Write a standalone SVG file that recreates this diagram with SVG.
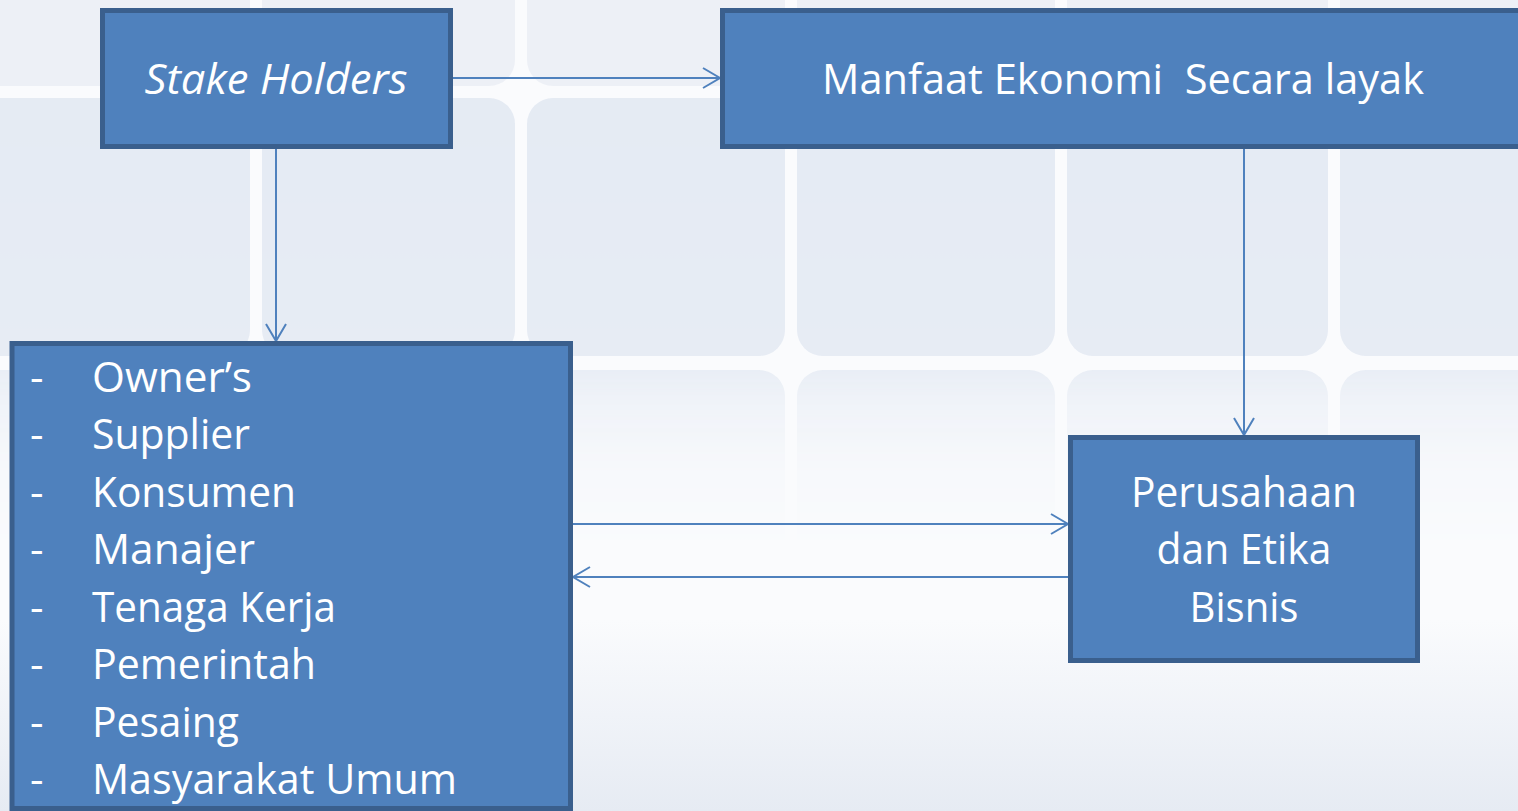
<svg xmlns="http://www.w3.org/2000/svg" width="1518" height="811" viewBox="0 0 1518 811">
  <defs>
    <linearGradient id="fade" x1="0" y1="0" x2="0" y2="811" gradientUnits="userSpaceOnUse">
      <stop offset="0" stop-color="#fff" stop-opacity="1"/>
      <stop offset="0.44" stop-color="#fff" stop-opacity="0.9"/>
      <stop offset="0.5" stop-color="#fff" stop-opacity="0.45"/>
      <stop offset="0.58" stop-color="#fff" stop-opacity="0.12"/>
      <stop offset="0.68" stop-color="#fff" stop-opacity="0"/>
    </linearGradient>
    <mask id="tileMask" maskUnits="userSpaceOnUse" x="0" y="0" width="1518" height="811">
      <rect x="0" y="0" width="1518" height="811" fill="url(#fade)"/>
    </mask>
    <linearGradient id="bottom" x1="0" y1="620" x2="0" y2="811" gradientUnits="userSpaceOnUse">
      <stop offset="0" stop-color="#E6EBF3" stop-opacity="0"/>
      <stop offset="1" stop-color="#E6EBF3" stop-opacity="1"/>
    </linearGradient>
    <marker id="arrow" markerUnits="userSpaceOnUse" viewBox="-20 -12 22 24" markerWidth="22" markerHeight="24" refX="0" refY="0" orient="auto">
      <path d="M -17 -10 L 0 0 L -17 10" fill="none" stroke="#4F81BD" stroke-width="2"/>
    </marker>
  </defs>
  <style>
    .node { fill: #4F81BD; stroke: #3A5F8D; stroke-width: 5; }
    .tile { fill: #E4EAF3; }
    .lbl { font-family: "Open Sans", "Liberation Sans", sans-serif; font-size: 42px; fill: #FFFFFF; }
    .conn { fill: none; stroke: #4F81BD; stroke-width: 2; marker-end: url(#arrow); }
  </style>

  <rect x="0" y="0" width="1518" height="811" fill="#FAFBFD"/>
  <g id="background" mask="url(#tileMask)">
    <g class="tile">
      <rect x="-40" y="-40" width="290" height="126" rx="26" fill="#EDF0F6"/>
      <rect x="262" y="-40" width="253" height="126" rx="26" fill="#EDF0F6"/>
      <rect x="527" y="-40" width="258" height="126" rx="26" fill="#EDF0F6"/>
      <rect x="797" y="-40" width="258" height="126" rx="26" fill="#EDF0F6"/>
      <rect x="1067" y="-40" width="261" height="126" rx="26" fill="#EDF0F6"/>
      <rect x="1340" y="-40" width="260" height="126" rx="26" fill="#EDF0F6"/>

      <rect x="-40" y="98" width="290" height="258" rx="26"/>
      <rect x="262" y="98" width="253" height="258" rx="26"/>
      <rect x="527" y="98" width="258" height="258" rx="26"/>
      <rect x="797" y="98" width="258" height="258" rx="26"/>
      <rect x="1067" y="98" width="261" height="258" rx="26"/>
      <rect x="1340" y="98" width="260" height="258" rx="26"/>

      <rect x="-40" y="370" width="290" height="258" rx="26"/>
      <rect x="262" y="370" width="253" height="258" rx="26"/>
      <rect x="527" y="370" width="258" height="258" rx="26"/>
      <rect x="797" y="370" width="258" height="258" rx="26"/>
      <rect x="1067" y="370" width="261" height="258" rx="26"/>
      <rect x="1340" y="370" width="260" height="258" rx="26"/>
    </g>
  </g>
  <rect x="0" y="620" width="1518" height="191" fill="url(#bottom)"/>

  <g id="connectors">
    <line class="conn" x1="452" y1="78" x2="720" y2="78"/>
    <line class="conn" x1="276" y1="149" x2="276" y2="341"/>
    <line class="conn" x1="1244" y1="149" x2="1244" y2="435"/>
    <line class="conn" x1="573" y1="524" x2="1068" y2="524"/>
    <line class="conn" x1="1068" y1="577" x2="573" y2="577"/>
  </g>

  <g id="stakeholders">
    <rect class="node" x="102.5" y="10.5" width="348" height="136"/>
    <text class="lbl" x="276" y="94" text-anchor="middle" font-style="italic" textLength="263" lengthAdjust="spacingAndGlyphs">Stake Holders</text>
  </g>

  <g id="manfaat">
    <rect class="node" x="722.5" y="10.5" width="900" height="136"/>
    <text class="lbl" x="822" y="94" textLength="602" lengthAdjust="spacingAndGlyphs">Manfaat Ekonomi&#160; Secara layak</text>
  </g>

  <g id="list">
    <rect class="node" x="12" y="343.5" width="558.5" height="465"/>
    <g class="lbl">
      <text x="30" y="392">-</text>
      <text x="92" y="392" textLength="160" lengthAdjust="spacingAndGlyphs">Owner’s</text>
      <text x="30" y="449">-</text>
      <text x="92" y="449" textLength="158" lengthAdjust="spacingAndGlyphs">Supplier</text>
      <text x="30" y="507">-</text>
      <text x="92" y="507" textLength="204" lengthAdjust="spacingAndGlyphs">Konsumen</text>
      <text x="30" y="564">-</text>
      <text x="92" y="564" textLength="163" lengthAdjust="spacingAndGlyphs">Manajer</text>
      <text x="30" y="622">-</text>
      <text x="92" y="622" textLength="244" lengthAdjust="spacingAndGlyphs">Tenaga Kerja</text>
      <text x="30" y="679">-</text>
      <text x="92" y="679" textLength="224" lengthAdjust="spacingAndGlyphs">Pemerintah</text>
      <text x="30" y="737">-</text>
      <text x="92" y="737" textLength="147" lengthAdjust="spacingAndGlyphs">Pesaing</text>
      <text x="30" y="794">-</text>
      <text x="92" y="794" textLength="365" lengthAdjust="spacingAndGlyphs">Masyarakat Umum</text>
    </g>
  </g>

  <g id="perusahaan">
    <rect class="node" x="1070.5" y="437.5" width="347" height="223"/>
    <text class="lbl" x="1244" y="507" text-anchor="middle" textLength="226" lengthAdjust="spacingAndGlyphs">Perusahaan</text>
    <text class="lbl" x="1244" y="564" text-anchor="middle" textLength="175" lengthAdjust="spacingAndGlyphs">dan Etika</text>
    <text class="lbl" x="1244" y="622" text-anchor="middle" textLength="109" lengthAdjust="spacingAndGlyphs">Bisnis</text>
  </g>
</svg>
